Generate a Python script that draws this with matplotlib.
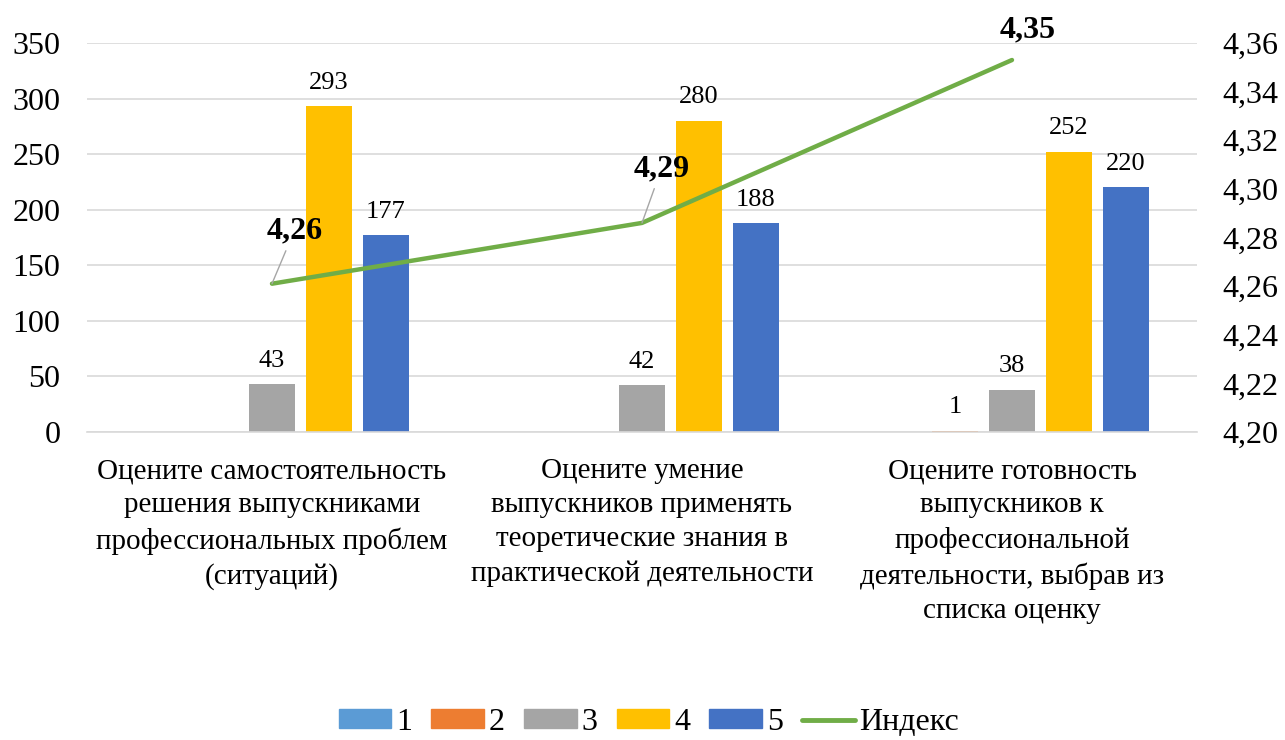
import numpy as np
import matplotlib.pyplot as plt
from matplotlib.patches import Patch
from matplotlib.lines import Line2D
from matplotlib.ticker import FuncFormatter

plt.rcParams['font.family'] = ['Liberation Serif', 'DejaVu Serif']

categories = ["Оцените самостоятельность\nрешения выпускниками\nпрофессиональных проблем\n(ситуаций)",
              "Оцените умение\nвыпускников применять\nтеоретические знания в\nпрактической деятельности",
              "Оцените готовность\nвыпускников к\nпрофессиональной\nдеятельности, выбрав из\nсписка оценку"]
series_names = ["1", "2", "3", "4", "5"]
s1 = [0, 0, 0]
s2 = [0, 0, 1]
s3 = [43, 42, 38]
s4 = [293, 280, 252]
s5 = [177, 188, 220]
index_vals = [4.261, 4.286, 4.353]
index_labels = ["4,26", "4,29", "4,35"]

colors = ['#5B9BD5', '#ED7D31', '#A5A5A5', '#FFC000', '#4472C4']
line_color = '#70AD47'

fig = plt.figure(figsize=(12.85, 7.4), dpi=100)
ax = fig.add_axes([0.0677, 0.4162, 0.8638, 0.5257])
x = np.arange(len(categories))
w = 0.124
step = 0.154
for i, vals in enumerate([s1, s2, s3, s4, s5]):
    pos = x + (i - 2) * step
    ax.bar(pos, vals, w, color=colors[i], zorder=2)
    for p, v in zip(pos, vals):
        if v > 0:
            ax.annotate(str(v), (p, v), xytext=(0, 9), textcoords='offset points',
                        ha='center', va='bottom', fontsize=19)

ax.set_xlim(-0.5, 2.5)
ax.set_ylim(0, 350)
ax.set_yticks(np.arange(0, 351, 50))
ax.yaxis.grid(True, color='#D9D9D9', lw=1.2, zorder=0)
ax.set_axisbelow(True)
for s in ['top', 'right', 'left']:
    ax.spines[s].set_visible(False)
ax.spines['bottom'].set_color('#D9D9D9')
ax.spines['bottom'].set_linewidth(1.2)
ax.tick_params(axis='both', length=0, labelsize=23)
ax.tick_params(axis='y', pad=19)
ax.set_xticks(x)
ax.set_xticklabels(categories, fontsize=21, linespacing=1.4)
ax.tick_params(axis='x', pad=19)

ax2 = ax.twinx()
ax2.set_ylim(4.20, 4.36)
ax2.set_yticks(np.arange(4.20, 4.3601, 0.02))
ax2.yaxis.set_major_formatter(FuncFormatter(lambda v, p: f"{v:.2f}".replace('.', ',')))
for s in ['top', 'right', 'left', 'bottom']:
    ax2.spines[s].set_visible(False)
ax2.tick_params(axis='y', length=0, labelsize=23, pad=18)
ax2.plot(x, index_vals, color=line_color, lw=3.2, solid_capstyle='round', solid_joinstyle='round', zorder=3)

offsets = [(16, 38), (14, 39), (11, 22)]
for i, (xv, yv, lab) in enumerate(zip(x, index_vals, index_labels)):
    arrow = dict(arrowstyle='-', color='#A6A6A6', lw=1, shrinkA=2, shrinkB=0) if i < 2 else None
    ax2.annotate(lab, (xv, yv), xytext=offsets[i], textcoords='offset points',
                 ha='center', va='center', fontsize=23, fontweight='bold', arrowprops=arrow)

handles = [Patch(color=c) for c in colors] + [Line2D([], [], color=line_color, lw=3.5, solid_capstyle='round')]
fig.legend(handles, series_names + ["Индекс"], loc='center', bbox_to_anchor=(0.505, 0.024), ncol=6,
           frameon=False, fontsize=23, handlelength=1.65, handleheight=0.5, handletextpad=0.15,
           columnspacing=0.6)

fig.savefig('out.png', dpi=100)
